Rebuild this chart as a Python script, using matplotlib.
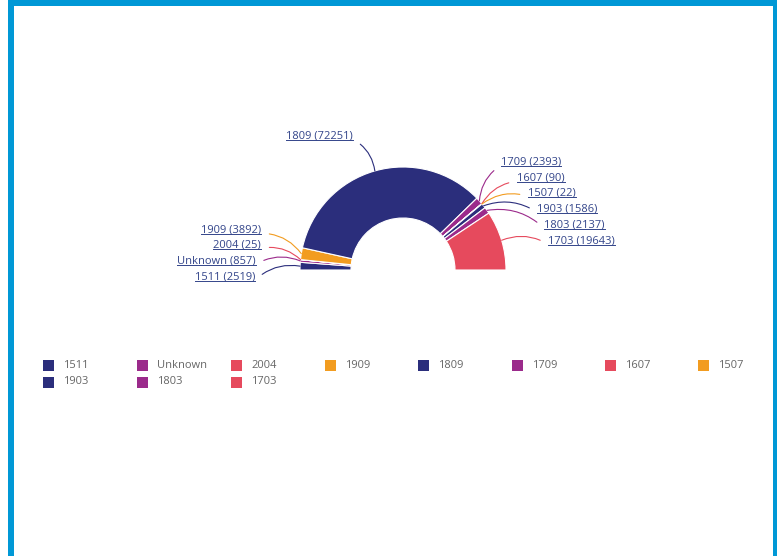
import numpy as np
import matplotlib.pyplot as plt
from matplotlib.patches import Rectangle
from matplotlib.lines import Line2D
from matplotlib.text import Text

# Data
labels = ["1511", "Unknown", "2004", "1909", "1809", "1709", "1607", "1507", "1903", "1803", "1703"]
values = [2519, 857, 25, 3892, 72251, 2393, 90, 22, 1586, 2137, 19643]
palette = ["#2b2e7c", "#9b2a8b", "#e64a5d", "#f29c20"]
colors = [palette[i % 4] for i in range(len(labels))]

# label placement (pixel coords of the picture): x, y, side
label_pos = {
    "1511": (255, 277, "right"),
    "Unknown": (256, 261, "right"),
    "2004": (261, 245, "right"),
    "1909": (261, 230, "right"),
    "1809": (353, 136, "right"),
    "1709": (501, 162, "left"),
    "1607": (517, 178, "left"),
    "1507": (528, 193, "left"),
    "1903": (537, 209, "left"),
    "1803": (544, 225, "left"),
    "1703": (548, 241, "left"),
}

W, H = 777, 556
fig = plt.figure(figsize=(W / 100, H / 100), dpi=100)
ax = fig.add_axes([0, 0, 1, 1])
ax.set_xlim(0, W)
ax.set_ylim(0, H)
ax.set_aspect("equal")
ax.axis("off")

plt.rcParams["font.family"] = ["Open Sans", "DejaVu Sans"]

def py(y):
    return H - y

# blue frame
frame_c = "#0098d6"
ax.add_patch(Rectangle((8, py(6)), W, 6, color=frame_c, lw=0))
ax.add_patch(Rectangle((8, 0), 6, H, color=frame_c, lw=0))
ax.add_patch(Rectangle((773, 0), 6, H, color=frame_c, lw=0))

# half donut: a hidden wedge fills the lower half
cx, cy, R = 403, py(270), 103
total = sum(values)
wedges, _ = ax.pie(values + [total], colors=colors + ["none"], startangle=180,
                   counterclock=False, radius=R, center=(cx, cy),
                   wedgeprops=dict(width=51, edgecolor="white", linewidth=0.8))
wedges[-1].set_edgecolor("none")
ax.set_xlim(0, W)
ax.set_ylim(0, H)

text_c = "#33458a"
texts = []
for w, lab, val, col in zip(wedges[:-1], labels, values, colors):
    ang = np.deg2rad((w.theta1 + w.theta2) / 2)
    tip = (cx + R * np.cos(ang), cy + R * np.sin(ang))
    x, y, side = label_pos[lab]
    relx = 1 if side == "right" else 0
    rad = -0.25 if side == "right" else 0.25
    t = ax.annotate(f"{lab} ({val})", xy=tip, xytext=(x, py(y)),
                    ha=side, va="center", fontsize=8, color=text_c,
                    arrowprops=dict(arrowstyle="-", color=col, lw=0.8,
                                    shrinkA=4, shrinkB=0, relpos=(relx, 0.2),
                                    connectionstyle=f"arc3,rad={rad}"))
    texts.append(t)

# legend drawn as a fixed grid
col_x = [43, 137, 231, 325, 418, 512, 605, 698]
row_y = [365, 382]
for i, (lab, col) in enumerate(zip(labels, colors)):
    x = col_x[i % 8]
    y = row_y[i // 8]
    ax.add_patch(Rectangle((x, py(y) - 5.5), 11, 11, color=col, lw=0))
    ax.text(x + 20, py(y), lab, fontsize=8, color="#666666", va="center", ha="left")

# underline the slice labels
fig.canvas.draw()
inv = ax.transData.inverted()
for t in texts:
    bb = Text.get_window_extent(t)
    (x0, y0), (x1, _) = inv.transform([(bb.x0, bb.y0 + 1.5), (bb.x1, bb.y0 + 1.5)])
    ax.add_line(Line2D([x0, x1], [y0, y0], color=text_c, lw=0.7))

fig.savefig("out.png", dpi=100, facecolor="white")
